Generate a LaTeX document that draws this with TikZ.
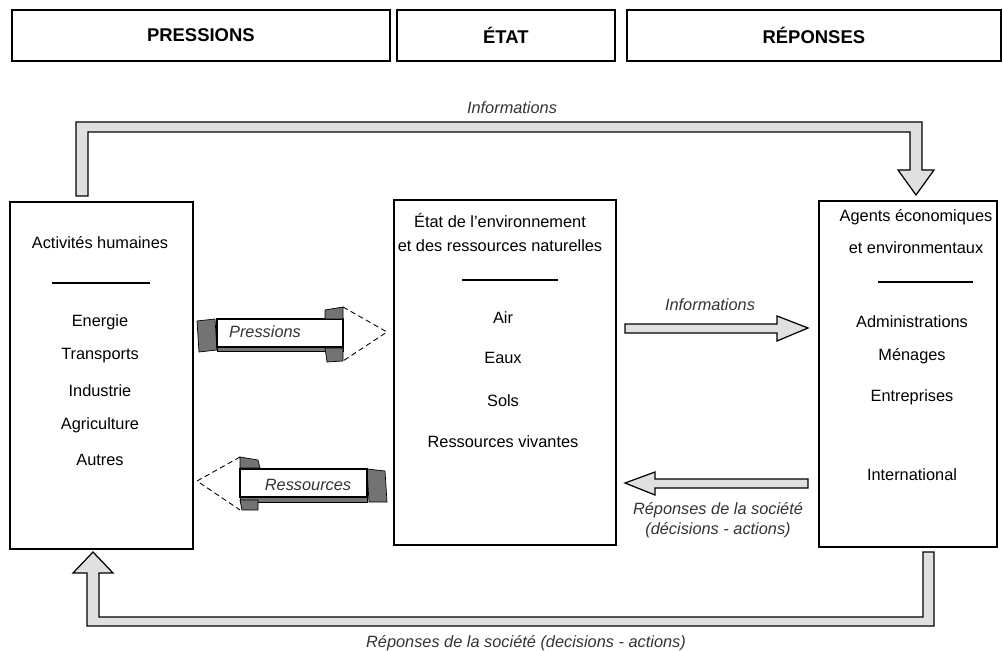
\documentclass[tikz,border=0pt]{standalone}
\usepackage{fontspec}
\setmainfont{Liberation Sans}
\usetikzlibrary{positioning}

\tikzset{
  box/.style={draw, line width=1pt, anchor=north west, inner sep=0pt},
  txt/.style={font=\fontsize{9.3}{11}\selectfont, inner sep=0pt},
  lbl/.style={font=\fontsize{9.3}{11}\selectfont\itshape, text=black!80, inner sep=0pt},
  titre/.style={font=\fontsize{10.5}{12}\selectfont\bfseries, inner sep=0pt},
  flat/.style={draw, line width=0.7pt, fill=black!12},
  side/.style={draw, line width=0.4pt, fill=black!55},
  pointe/.style={draw, line width=0.5pt, densely dashed},
}

\begin{document}
\begin{tikzpicture}[x=0.02cm, y=-0.02cm]
  \useasboundingbox (0,0) rectangle (1003,651);

  % en-tetes
  \node[box, minimum width=7.56cm, minimum height=1.02cm] (hp) at (11,9) {};
  \node[box, minimum width=4.36cm, minimum height=1.02cm] (he) at (396,9) {};
  \node[box, minimum width=7.48cm, minimum height=1.02cm] (hr) at (626,9) {};
  \node[titre] (thp) at (hp.center) {PRESSIONS};
  \node[titre] (the) at (he.center) {ÉTAT};
  \node[titre] (thr) at (hr.center) {RÉPONSES};

  % les trois cadres
  \node[box, minimum width=3.66cm, minimum height=6.94cm] (act) at (9,201) {};
  \node[box, minimum width=4.44cm, minimum height=6.90cm] (env) at (393,199) {};
  \node[box, minimum width=3.56cm, minimum height=6.92cm] (age) at (818,200) {};

  \node[txt] (a0) at (100,243) {Activités humaines};
  \draw[line width=0.8pt] (52,283) -- (150,283);
  \node[txt] (a1) at (100,322) {Energie};
  \node[txt] (a2) at (100,356) {Transports};
  \node[txt] (a3) at (100,391) {Industrie};
  \node[txt] (a4) at (100,425) {Agriculture};
  \node[txt] (a5) at (100,460) {Autres};

  \node[txt] (e0) at (500,220) {État de l'environnement};
  \node[txt] (e1) at (500,246) {et des ressources naturelles};
  \draw[line width=0.8pt] (462,280) -- (558,280);
  \node[txt] (e2) at (503,318) {Air};
  \node[txt] (e3) at (503,358) {Eaux};
  \node[txt] (e4) at (503,401) {Sols};
  \node[txt] (e5) at (503,442) {Ressources vivantes};

  \node[txt] (g0) at (916,217) {Agents économiques};
  \node[txt] (g1) at (916,248) {et environmentaux};
  \draw[line width=0.8pt] (878,282) -- (973,282);
  \node[txt] (g2) at (912,322) {Administrations};
  \node[txt] (g3) at (912,356) {Ménages};
  \node[txt] (g4) at (912,397) {Entreprises};
  \node[txt] (g5) at (912,475) {International};

  % boucle du haut
  \draw[flat] (76,196) -- (76,122) -- (922,122) -- (922,170) -- (934,170)
    -- (916,195) -- (898,170) -- (910,170) -- (910,132) -- (88,132) -- (88,196) -- cycle;
  \node[lbl] (i0) at (512,108) {Informations};

  % boucle du bas
  \draw[flat] (934,552) -- (934,626) -- (87,626) -- (87,573) -- (73,573)
    -- (93,552) -- (113,573) -- (99,573) -- (99,617) -- (923,617) -- (923,552) -- cycle;
  \node[lbl] (r0) at (526,643) {Réponses de la société (decisions - actions)};

  % fleche Pressions
  \draw[side] (197,321) -- (215,319) -- (217,350) -- (199,352) -- cycle;
  \draw[side] (217,347) -- (343,347) -- (343,351) -- (217,351) -- cycle;
  \draw[line width=0.7pt, fill=white] (217,319) rectangle (343,347);
  \draw[side] (325,310) -- (343,307) -- (343,319) -- (325,319) -- cycle;
  \draw[side] (325,348) -- (343,348) -- (343,361) -- (327,362) -- cycle;
  \draw[pointe] (343,307) -- (387,332) -- (343,361);
  \node[lbl] (p0) at (265,332) {Pressions};

  % fleche Ressources
  \draw[side] (367,469) -- (385,471) -- (387,502) -- (369,502) -- cycle;
  \draw[side] (240,497) -- (367,497) -- (367,502) -- (240,502) -- cycle;
  \draw[line width=0.7pt, fill=white] (240,469) rectangle (367,497);
  \draw[side] (240,457) -- (258,460) -- (260,468) -- (240,468) -- cycle;
  \draw[side] (240,500) -- (258,500) -- (258,510) -- (242,510) -- cycle;
  \draw[pointe] (240,457) -- (197,481) -- (240,510);
  \node[lbl] (s0) at (308,485) {Ressources};

  % fleches centrales
  \draw[flat] (625,324) -- (777,324) -- (777,316) -- (808,328) -- (777,341)
    -- (777,333) -- (625,333) -- cycle;
  \node[lbl] (i1) at (710,305) {Informations};

  \draw[flat] (808,479) -- (655,479) -- (655,472) -- (625,483) -- (655,495)
    -- (655,488) -- (808,488) -- cycle;
  \node[lbl] (r1) at (718,510) {Réponses de la société};
  \node[lbl] (r2) at (718,530) {(décisions - actions)};
\end{tikzpicture}
\end{document}
